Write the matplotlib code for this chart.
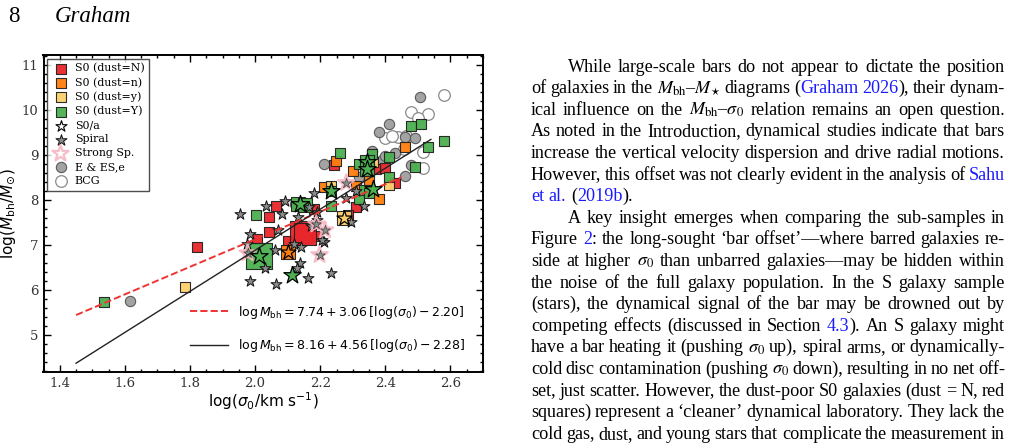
import re
import matplotlib
matplotlib.use('Agg')
import matplotlib.pyplot as plt
import numpy as np

# ---- data: log(sigma0), log(Mbh) ----
s0_N_x = [1.823, 2.006, 2.043, 2.043, 2.063, 2.100, 2.186, 2.180, 2.310, 2.243, 2.370, 2.400, 2.430, 2.285]
s0_N_y = [6.96, 7.14, 7.30, 7.63, 7.87, 7.09, 7.19, 7.79, 7.85, 8.78, 8.68, 8.72, 8.37, 7.66]
s0_N_big_x = [2.140, 2.152]
s0_N_big_y = [7.30, 7.24]

s0_n_x = [2.250, 2.300, 2.211, 2.310, 2.380, 2.350, 2.460]
s0_n_y = [8.87, 8.64, 8.28, 8.31, 8.02, 8.44, 9.17]
s0_n_mid_x = [2.100]
s0_n_mid_y = [6.85]

s0_y_x = [1.785, 2.363, 2.232, 2.410]
s0_y_y = [6.06, 8.85, 8.31, 8.33]
s0_y_mid_x = [2.272]
s0_y_mid_y = [7.59]

s0_Y_x = [1.537, 2.004, 2.262, 2.360, 2.320, 2.410, 2.410, 2.233, 2.320, 2.336, 2.350,
          2.480, 2.510, 2.580, 2.530, 2.490, 2.232]
s0_Y_y = [5.74, 7.67, 9.05, 9.02, 8.79, 8.96, 8.52, 7.87, 8.03, 8.22, 8.15,
          9.64, 9.69, 9.32, 9.17, 8.74, 8.20]
s0_Y_mid_x = [2.132, 2.152, 2.344, 2.344]
s0_Y_mid_y = [7.92, 7.88, 8.84, 8.68]
s0_Y_big_x = [2.012]
s0_Y_big_y = [6.76]

# S0/a galaxies (stars, filled with their dust colour when known)
s0a_Y_x = [2.012, 2.138, 2.344, 2.344, 2.232, 2.361, 2.112]
s0a_Y_y = [6.76, 7.90, 8.84, 8.68, 8.20, 8.24, 6.33]
s0a_n_x = [2.100]
s0a_n_y = [6.85]
s0a_y_x = [2.272]
s0a_y_y = [7.59]

spiral_x = [1.953, 1.984, 1.976, 1.984, 2.033, 2.093, 2.083, 2.133, 2.070, 2.030, 2.062, 2.065,
            2.142, 2.137, 2.128, 2.162, 2.232, 2.213, 2.180, 2.165, 2.190, 2.295, 2.280, 2.334,
            2.190, 2.172, 2.120, 2.205, 2.310]
spiral_y = [7.70, 7.24, 7.02, 6.20, 7.87, 7.98, 7.68, 7.62, 7.33, 6.50, 6.89, 6.13,
            6.95, 6.60, 6.50, 6.26, 6.38, 7.07, 8.16, 7.85, 7.74, 7.52, 8.04, 7.87,
            7.55, 7.42, 7.02, 7.12, 8.20]

# strong spirals (also spirals: gray star with a pink ring)
strong_x = [1.977, 2.188, 2.215, 2.198, 2.280]
strong_y = [6.82, 7.46, 7.33, 6.78, 8.38]

ell_x = [1.616, 2.121, 2.213, 2.320, 2.390, 2.412, 2.380, 2.460, 2.490, 2.507, 2.480, 2.460,
         2.360, 2.400, 2.430]
ell_y = [5.76, 7.91, 8.79, 8.51, 8.89, 9.68, 9.50, 9.41, 9.38, 10.28, 8.78, 8.53,
         9.08, 8.98, 9.05]

bcg_x = [2.580, 2.480, 2.530, 2.500, 2.440, 2.400, 2.420, 2.465, 2.456, 2.515, 2.515]
bcg_y = [10.33, 9.96, 9.90, 9.81, 9.39, 9.37, 9.42, 9.42, 9.13, 8.70, 9.07]

# fitted relations
fit1_a, fit1_b, fit1_x0 = 7.74, 3.06, 2.20
fit1_range = [1.45, 2.45]
fit2_a, fit2_b, fit2_x0 = 8.16, 4.56, 2.28
fit2_range = [1.45, 2.54]

RED = '#e8262b'
ORANGE = '#ff7f0e'
YELLOW = '#fdd06c'
GREEN = '#4cb050'
BLUE = '#1a1aff'

W, H = 1016, 448
fig = plt.figure(figsize=(W / 100, H / 100), dpi=100)
ax = fig.add_axes([43.5 / W, 1 - 372 / H, (483 - 43.5) / W, (372 - 55) / H])

sq = dict(marker='s', edgecolors='#222222', linewidths=0.8, alpha=0.95)
ax.scatter(bcg_x, bcg_y, s=70, marker='o', facecolors='white', edgecolors='#8a8a8a',
           linewidths=0.9, label='BCG', zorder=2)
ax.scatter(ell_x, ell_y, s=55, marker='o', facecolors='#a3a3a3', edgecolors='#5a5a5a',
           linewidths=0.8, label='E & ES,e', zorder=2)

ax.scatter(s0_N_x, s0_N_y, s=48, c=RED, label='S0 (dust=N)', zorder=3, **sq)
ax.scatter(s0_N_big_x, s0_N_big_y, s=260, c=RED, zorder=3, **sq)
ax.scatter(s0_n_x, s0_n_y, s=48, c=ORANGE, label='S0 (dust=n)', zorder=3, **sq)
ax.scatter(s0_n_mid_x, s0_n_mid_y, s=110, c=ORANGE, zorder=3, **sq)
ax.scatter(s0_y_x, s0_y_y, s=48, c=YELLOW, label='S0 (dust=y)', zorder=3, **sq)
ax.scatter(s0_y_mid_x, s0_y_mid_y, s=110, c=YELLOW, zorder=3, **sq)
ax.scatter(s0_Y_x, s0_Y_y, s=48, c=GREEN, label='S0 (dust=Y)', zorder=3, **sq)
ax.scatter(s0_Y_mid_x, s0_Y_mid_y, s=110, c=GREEN, zorder=3, **sq)
ax.scatter(s0_Y_big_x, s0_Y_big_y, s=330, c=GREEN, zorder=3, **sq)

ax.scatter([], [], s=70, marker='*', facecolors='white', edgecolors='black',
           linewidths=0.8, label='S0/a')
ax.scatter(spiral_x, spiral_y, s=70, marker='*', facecolors='#8c8c8c', edgecolors='#111111',
           linewidths=0.7, label='Spiral', zorder=4)
ax.scatter(strong_x, strong_y, s=150, marker='*', facecolors='none', edgecolors='#f7b6c2',
           linewidths=1.6, alpha=0.9, label='Strong Sp.', zorder=4)
ax.scatter(strong_x, strong_y, s=55, marker='*', facecolors='#8c8c8c', edgecolors='#444444',
           linewidths=0.5, zorder=4)
ax.scatter(s0a_Y_x, s0a_Y_y, s=170, marker='*', facecolors=GREEN, edgecolors='black',
           linewidths=0.9, zorder=6)
ax.scatter(s0a_n_x, s0a_n_y, s=130, marker='*', facecolors=ORANGE, edgecolors='black',
           linewidths=0.9, zorder=6)
ax.scatter(s0a_y_x, s0a_y_y, s=130, marker='*', facecolors=YELLOW, edgecolors='black',
           linewidths=0.9, zorder=6)

xx1 = np.linspace(fit1_range[0], fit1_range[1], 50)
xx2 = np.linspace(fit2_range[0], fit2_range[1], 50)
l1, = ax.plot(xx1, fit1_a + fit1_b * (xx1 - fit1_x0), '--', color='#ee3333', lw=1.4, zorder=5,
              label=r'$\log M_{\rm bh} = 7.74 + 3.06\,[\log(\sigma_0) - 2.20]$')
l2, = ax.plot(xx2, fit2_a + fit2_b * (xx2 - fit2_x0), '-', color='#222222', lw=1.0, zorder=5,
              label=r'$\log M_{\rm bh} = 8.16 + 4.56\,[\log(\sigma_0) - 2.28]$')

ax.set_xlim(1.35, 2.70)
ax.set_ylim(4.18, 11.22)
ax.set_xticks([1.4, 1.6, 1.8, 2.0, 2.2, 2.4, 2.6])
ax.set_yticks([5, 6, 7, 8, 9, 10, 11])
ax.set_xticks(np.arange(1.35, 2.701, 0.05), minor=True)
ax.set_yticks(np.arange(4.2, 11.21, 0.2), minor=True)
ax.tick_params(which='both', direction='in', top=True, right=True, width=1.0, colors='black')
ax.tick_params(which='major', length=5)
ax.tick_params(which='minor', length=2.5)
for lab in ax.get_xticklabels() + ax.get_yticklabels():
    lab.set_fontfamily('DejaVu Serif')
    lab.set_fontsize(9.5)
    lab.set_color('#333333')
for sp in ax.spines.values():
    sp.set_linewidth(1.4)
ax.set_xlabel(r'$\log(\sigma_0/{\rm km\ s}^{-1})$', fontsize=11, labelpad=0)
ax.set_ylabel(r'$\log(M_{\rm bh}/M_{\odot})$', fontsize=11, labelpad=3)

handles, labels = ax.get_legend_handles_labels()
order = ['S0 (dust=N)', 'S0 (dust=n)', 'S0 (dust=y)', 'S0 (dust=Y)', 'S0/a', 'Spiral',
         'Strong Sp.', 'E & ES,e', 'BCG']
hmap = dict(zip(labels, handles))
leg1 = ax.legend([hmap[k] for k in order], order, loc='upper left',
                 prop={'family': 'DejaVu Serif', 'size': 7.9},
                 frameon=True, fancybox=False, edgecolor='#222222', borderaxespad=0.35,
                 handletextpad=0.5, labelspacing=0.36, scatterpoints=1, borderpad=0.4,
                 handlelength=1.6)
leg1.get_frame().set_linewidth(1.0)
ax.add_artist(leg1)
ax.legend([l1, l2], [l1.get_label(), l2.get_label()], loc='lower right', frameon=False,
          fontsize=9, labelspacing=1.35, handlelength=3, bbox_to_anchor=(0.985, 0.02))

# ---- page header ----
fig.text(8 / W, 1 - 22 / H, '8', fontsize=16.5, family='Liberation Serif', va='baseline')
fig.text(55 / W, 1 - 22 / H, 'Graham', fontsize=16.5, family='Liberation Serif',
         style='italic', va='baseline')

# ---- body text column ----
body = [
    (True, True, "While large-scale bars do not appear to dictate the position"),
    (False, True, "of galaxies in the $M_{\\mathrm{bh}}$–$M_{\\star}$ diagrams ([Graham] [2026]), their dynam-"),
    (False, True, "ical influence on the $M_{\\mathrm{bh}}$–$\\sigma_0$ relation remains an open question."),
    (False, True, "As noted in the Introduction, dynamical studies indicate that bars"),
    (False, True, "increase the vertical velocity dispersion and drive radial motions."),
    (False, True, "However, this offset was not clearly evident in the analysis of [Sahu]"),
    (False, False, "[et] [al.] ([2019b])."),
    (True, True, "A key insight emerges when comparing the sub-samples in"),
    (False, True, "Figure [2]: the long-sought ‘bar offset’—where barred galaxies re-"),
    (False, True, "side at higher $\\sigma_0$ than unbarred galaxies—may be hidden within"),
    (False, True, "the noise of the full galaxy population. In the S galaxy sample"),
    (False, True, "(stars), the dynamical signal of the bar may be drowned out by"),
    (False, True, "competing effects (discussed in Section [4.3]). An S galaxy might"),
    (False, True, "have a bar heating it (pushing $\\sigma_0$ up), spiral arms, or dynamically-"),
    (False, True, "cold disc contamination (pushing $\\sigma_0$ down), resulting in no net off-"),
    (False, True, "set, just scatter. However, the dust-poor S0 galaxies (dust = N, red"),
    (False, True, "squares) represent a ‘cleaner’ dynamical laboratory. They lack the"),
    (False, True, "cold gas, dust, and young stars that complicate the measurement in"),
]

renderer = fig.canvas.get_renderer()
txt_kw = dict(fontsize=13.1, family='Liberation Serif', math_fontfamily='stix', va='baseline')
col_left, col_right, indent = 531, 1005, 37
base0, step = 71.5, 21.6


def segments(word):
    out = []
    for part in re.split(r'(\[[^\]]*\])', word):
        if not part:
            continue
        if part.startswith('['):
            out.append((part[1:-1], BLUE))
        else:
            out.append((part, 'black'))
    return out


def seg_width(s):
    t = fig.text(0, 0, s, **txt_kw)
    w = t.get_window_extent(renderer).width
    t.remove()
    return w


for i, (ind, just, line) in enumerate(body):
    y = base0 + i * step
    x0 = col_left + (indent if ind else 0)
    words = [segments(w) for w in line.split(' ')]
    widths = [[seg_width(s) for s, _ in w] for w in words]
    total = sum(sum(w) for w in widths)
    if just and len(words) > 1:
        gap = (col_right - x0 - total) / (len(words) - 1)
    else:
        gap = seg_width('a a') - seg_width('aa')
    x = x0
    for w, ws in zip(words, widths):
        for (s, colr), sw in zip(w, ws):
            fig.text(x / W, 1 - y / H, s, color=colr, **txt_kw)
            x += sw
        x += gap

fig.savefig('out.png', dpi=100)
